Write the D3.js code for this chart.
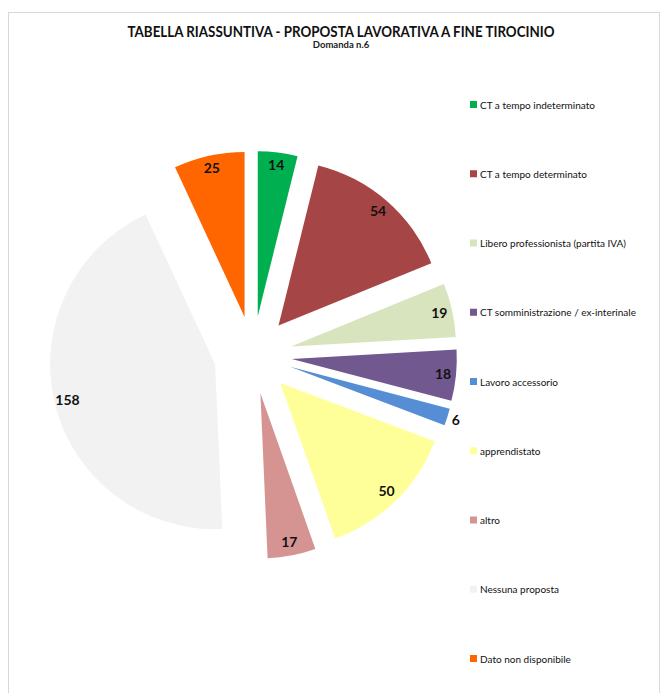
<!DOCTYPE html>
<html>
<head>
<meta charset="utf-8">
<script src="https://cdn.jsdelivr.net/npm/d3@7"></script>
<style>
  body { margin: 0; background: #fff; }
  text { font-family: Lato, "Open Sans", sans-serif; }
</style>
</head>
<body>
<div id="container"></div>
<script>
/* DATA */
const categories = [
  "CT a tempo indeterminato",
  "CT a tempo determinato",
  "Libero professionista (partita IVA)",
  "CT somministrazione / ex-interinale",
  "Lavoro accessorio",
  "apprendistato",
  "altro",
  "Nessuna proposta",
  "Dato non disponibile"
]
const values = [14, 54, 19, 18, 6, 50, 17, 158, 25]
const sliceColors = ["#00B050", "#A64545", "#D7E4BD", "#71588F", "#558ED5",
                     "#FFFF99", "#D59492", "#F2F2F2", "#FF6600"]

const title = "TABELLA RIASSUNTIVA - PROPOSTA LAVORATIVA A FINE TIROCINIO"
const subtitle = "Domanda n.6"

/* CONSTANTS */
const width = 668,
  height = 693,
  center = { x: 253, y: 355 },
  radius = 165,
  explode = 39

const data = categories.map((c, i) => ({ name: c, value: values[i] }))

/* SCALES */
const colorScale = d3.scaleOrdinal()
  .domain(categories)
  .range(sliceColors)

const legendY = d3.scalePoint()
  .domain(categories)
  .range([105, 659])

const pie = d3.pie()
  .value(d => d.value)
  .sort(null)
  .startAngle(0)
  .endAngle(2 * Math.PI)

const arc = d3.arc()
  .innerRadius(0)
  .outerRadius(radius)

const arcs = pie(data)

/* SVG */
const svg = d3.select("#container")
  .append("svg")
  .attr("width", width)
  .attr("height", height)

// chart border
svg.append("rect")
  .attr("x", 8.5)
  .attr("y", 12.5)
  .attr("width", 651)
  .attr("height", 700)
  .attr("fill", "#fff")
  .attr("stroke", "#d9d9d9")

// titles
svg.append("text")
  .attr("x", 341)
  .attr("y", 37)
  .attr("text-anchor", "middle")
  .attr("font-size", 15)
  .attr("font-weight", "bold")
  .attr("fill", "#111")
  .attr("textLength", 427)
  .attr("lengthAdjust", "spacingAndGlyphs")
  .text(title)

svg.append("text")
  .attr("x", 341)
  .attr("y", 48)
  .attr("text-anchor", "middle")
  .attr("font-size", 9.5)
  .attr("font-weight", "bold")
  .attr("fill", "#222")
  .text(subtitle)

// exploded slices
const mid = d => (d.startAngle + d.endAngle) / 2
const offset = d => [Math.sin(mid(d)) * explode, -Math.cos(mid(d)) * explode]

const slices = svg.append("g")
  .attr("transform", `translate(${center.x},${center.y})`)

slices.selectAll("path")
  .data(arcs)
  .join("path")
  .attr("transform", d => `translate(${offset(d)})`)
  .attr("d", arc)
  .attr("fill", d => colorScale(d.data.name))

// value labels: inside end, or just outside when slice is too thin
slices.selectAll(".value-label")
  .data(arcs)
  .join("text")
  .attr("class", "value-label")
  .attr("x", d => {
    const small = d.endAngle - d.startAngle < 0.15
    const dist = explode + (small ? radius + 9 : radius - 13)
    return Math.sin(mid(d)) * dist
  })
  .attr("y", d => {
    const small = d.endAngle - d.startAngle < 0.15
    const dist = explode + (small ? radius + 9 : radius - 13)
    return -Math.cos(mid(d)) * dist
  })
  .attr("dy", "0.35em")
  .attr("text-anchor", "middle")
  .attr("font-size", 14)
  .attr("font-weight", "bold")
  .attr("fill", "#111")
  .text(d => d.data.value)

// legend
const legend = svg.append("g")
  .selectAll("g")
  .data(categories)
  .join("g")
  .attr("transform", d => `translate(470,${legendY(d)})`)

legend.append("rect")
  .attr("x", 0)
  .attr("y", -4)
  .attr("width", 7)
  .attr("height", 7)
  .attr("fill", d => colorScale(d))

legend.append("text")
  .attr("x", 10)
  .attr("y", 0)
  .attr("dy", "0.35em")
  .attr("font-size", 10)
  .attr("fill", "#111")
  .text(d => d)
</script>
</body>
</html>
